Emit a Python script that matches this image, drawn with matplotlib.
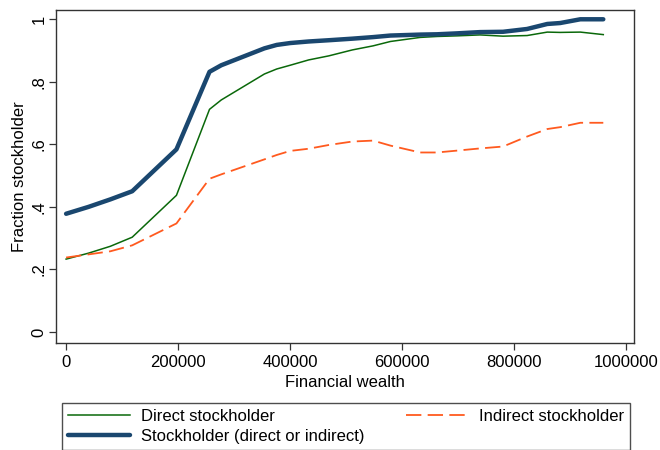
import matplotlib
matplotlib.use('Agg')
import matplotlib.pyplot as plt

plt.rcParams['font.family'] = ['Liberation Sans', 'DejaVu Sans']

# financial wealth grid and stockholding shares
wealth = [0, 40000, 79000, 118000, 197000, 256000, 277000, 354000, 376000, 400000,
          433000, 469000, 511000, 548000, 579000, 632000, 662000, 698000, 739000,
          780000, 823000, 859000, 882000, 918000, 959000]
direct = [0.233, 0.252, 0.274, 0.303, 0.437, 0.712, 0.742, 0.825, 0.841, 0.853,
          0.870, 0.883, 0.902, 0.915, 0.929, 0.942, 0.945, 0.947, 0.950,
          0.946, 0.948, 0.959, 0.958, 0.959, 0.951]
indirect = [0.238, 0.248, 0.258, 0.277, 0.347, 0.490, 0.504, 0.552, 0.566, 0.579,
            0.586, 0.598, 0.609, 0.612, 0.596, 0.574, 0.574, 0.580, 0.587,
            0.593, 0.625, 0.649, 0.655, 0.669, 0.669]
anystock = [0.378, 0.400, 0.424, 0.450, 0.584, 0.832, 0.853, 0.907, 0.918, 0.924,
            0.929, 0.933, 0.938, 0.943, 0.948, 0.951, 0.952, 0.955, 0.959,
            0.960, 0.969, 0.985, 0.988, 1.0, 1.0]

xticks = [0, 200000, 400000, 600000, 800000, 1000000]
yticks = [0, 0.2, 0.4, 0.6, 0.8, 1.0]
ylabels = ['0', '.2', '.4', '.6', '.8', '1']

fig = plt.figure(figsize=(6.6, 4.5), dpi=100)
ax = fig.add_axes([0.085, 0.238, 0.876, 0.74])

l1, = ax.plot(wealth, direct, color='#0a680a', lw=1.1, label='Direct stockholder')
l2, = ax.plot(wealth, indirect, color='#ff5a1f', lw=1.3, dashes=(8.5, 3.5),
              label='Indirect stockholder')
l3, = ax.plot(wealth, anystock, color='#1a476f', lw=3.2,
              label='Stockholder (direct or indirect)', solid_capstyle='round')

ax.set_xlim(-17857, 1014286)
ax.set_ylim(-0.035, 1.03)
ax.set_xticks(xticks)
ax.set_xticklabels([str(t) for t in xticks])
ax.set_yticks(yticks)
ax.set_yticklabels(ylabels, rotation=90, va='center')
ax.tick_params(axis='both', direction='out', length=5, width=0.9, labelsize=12,
               color='#333333')
ax.tick_params(axis='x', pad=4)
ax.tick_params(axis='y', pad=2)
for s in ax.spines.values():
    s.set_color('#333333')
    s.set_linewidth(1.0)

ax.set_xlabel('Financial wealth', fontsize=12, labelpad=3)
ax.set_ylabel('Fraction stockholder', fontsize=12, labelpad=3)

leg = fig.legend([l1, l3, l2], [l1.get_label(), l3.get_label(), l2.get_label()],
                 ncol=2, mode='expand', loc='lower left',
                 bbox_to_anchor=(62 / 660, 0.0, 568 / 660, 53 / 450),
                 fontsize=12, frameon=True, fancybox=False, handlelength=3.7,
                 borderaxespad=0, borderpad=0.35, labelspacing=0.3,
                 handletextpad=0.7)
leg.get_frame().set_edgecolor('#222222')
leg.get_frame().set_linewidth(1.0)

fig.savefig('out.png', dpi=100, facecolor='white')
